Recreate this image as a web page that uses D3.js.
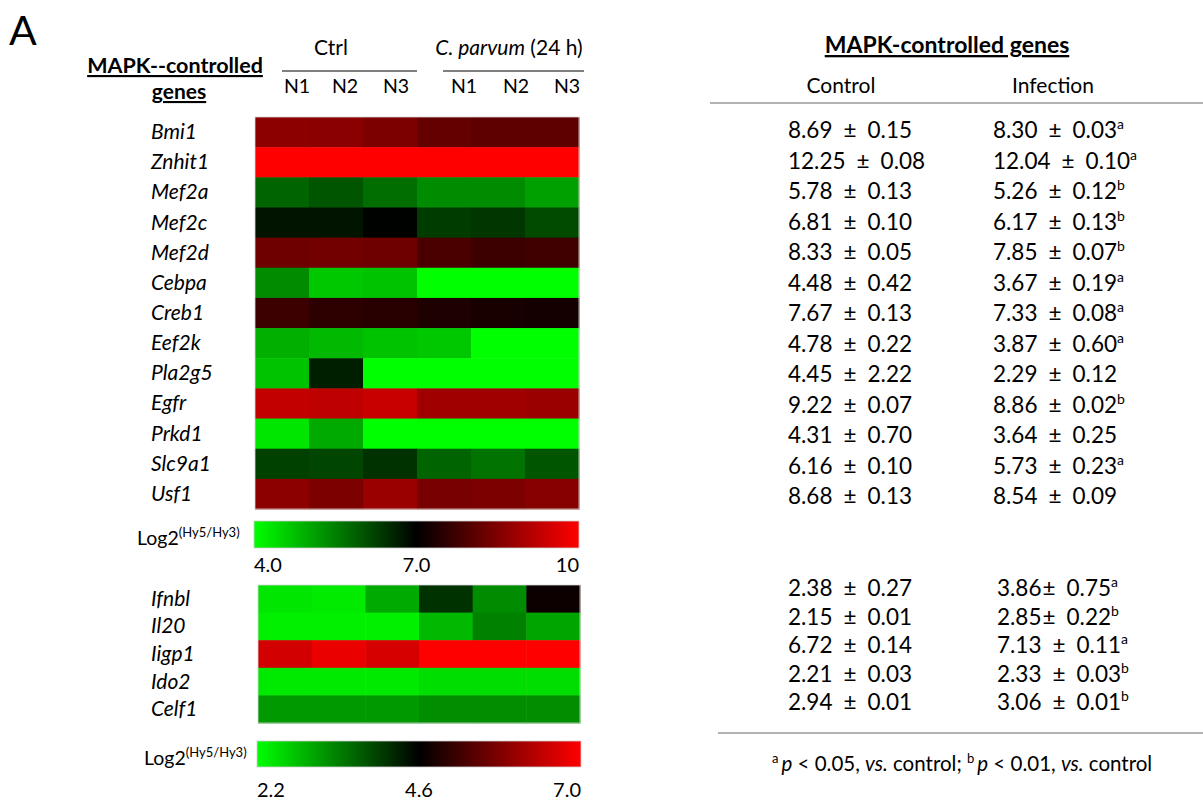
<!DOCTYPE html>
<html><head><meta charset="utf-8">
<script src="https://cdn.jsdelivr.net/npm/d3@7"></script>
<style>
html,body{margin:0;padding:0;background:#fff;}
svg{display:block;font-family:Lato,"Open Sans",sans-serif;}
</style></head>
<body>
<svg id="chart" width="1203" height="801"></svg>
<script>
// ---------- DATA ----------
const samples = ["N1","N2","N3","N1","N2","N3"];
const genes1 = ["Bmi1","Znhit1","Mef2a","Mef2c","Mef2d","Cebpa","Creb1","Eef2k","Pla2g5","Egfr","Prkd1","Slc9a1","Usf1"];
const values1 = [
  [8.65, 8.62, 8.47, 8.18, 8.12, 8.12],
  [12.3, 12.2, 12.25, 12.0, 12.1, 12.0],
  [5.82, 6.0, 5.71, 5.35, 5.35, 5.12],
  [6.76, 6.76, 6.98, 6.29, 6.35, 6.12],
  [8.29, 8.35, 8.29, 7.88, 7.71, 7.76],
  [5.35, 4.65, 4.71, 3.8, 3.6, 3.6],
  [7.71, 7.53, 7.47, 7.35, 7.29, 7.24],
  [4.94, 4.82, 4.71, 4.65, 3.6, 3.4],
  [4.71, 6.65, 1.9, 2.4, 2.2, 2.3],
  [9.29, 9.24, 9.35, 8.88, 8.88, 8.82],
  [4.29, 5.0, 3.6, 3.9, 3.5, 3.5],
  [6.24, 6.18, 6.41, 5.82, 5.65, 6.0],
  [8.65, 8.47, 8.82, 8.41, 8.47, 8.59]
];
const genes2 = ["Ifnbl","Il20","Iigp1","Ido2","Celf1"];
const values2 = [
  [2.44, 2.39, 3.0, 4.13, 3.28, 4.72],
  [2.34, 2.34, 2.34, 2.86, 3.38, 3.05],
  [6.58, 6.81, 6.62, 7.1, 7.2, 7.1],
  [2.4, 2.4, 2.4, 2.52, 2.52, 2.52],
  [3.16, 3.16, 3.16, 3.26, 3.26, 3.26]
];
const scaleTicks1 = ["4.0","7.0","10"];
const scaleDomain1 = [4.0, 7.0, 10];
const scaleTicks2 = ["2.2","4.6","7.0"];
const scaleDomain2 = [2.2, 4.6, 7.0];

const ctrlMean1 = ["8.69","12.25","5.78","6.81","8.33","4.48","7.67","4.78","4.45","9.22","4.31","6.16","8.68"];
const ctrlSD1   = ["0.15","0.08","0.13","0.10","0.05","0.42","0.13","0.22","2.22","0.07","0.70","0.10","0.13"];
const infMean1  = ["8.30","12.04","5.26","6.17","7.85","3.67","7.33","3.87","2.29","8.86","3.64","5.73","8.54"];
const infSD1    = ["0.03","0.10","0.12","0.13","0.07","0.19","0.08","0.60","0.12","0.02","0.25","0.23","0.09"];
const infSig1   = ["a","a","b","b","b","a","a","a","","b","","a",""];

const ctrlMean2 = ["2.38","2.15","6.72","2.21","2.94"];
const ctrlSD2   = ["0.27","0.01","0.14","0.03","0.01"];
const infMean2  = ["3.86","2.85","7.13","2.33","3.06"];
const infSD2    = ["0.75","0.22","0.11","0.03","0.01"];
const infSig2   = ["a","b","a","b","b"];
const infTight2 = [true, true, false, false, false];

// ---------- DRAW ----------
const svg = d3.select("#chart");
const colors = ["#00ff00","#000000","#ff0000"];

svg.append("text").attr("x",9).attr("y",45).attr("font-size",41)
  .attr("font-family","Lato, sans-serif").text("A");

// left header
const hdr = svg.append("g");
hdr.append("text").attr("x",175).attr("y",73).attr("text-anchor","middle")
  .attr("font-weight","bold").attr("font-size",21.5).attr("text-decoration","underline")
  .text("MAPK--controlled");
hdr.append("text").attr("x",179).attr("y",99).attr("text-anchor","middle")
  .attr("font-weight","bold").attr("font-size",21).attr("text-decoration","underline")
  .text("genes");
hdr.append("text").attr("x",331).attr("y",55).attr("text-anchor","middle").attr("font-size",21).text("Ctrl");
const cp = hdr.append("text").attr("x",509).attr("y",55).attr("text-anchor","middle").attr("font-size",21);
cp.append("tspan").attr("font-style","italic").text("C. parvum");
cp.append("tspan").text(" (24 h)");
hdr.append("line").attr("x1",282).attr("x2",417).attr("y1",71).attr("y2",71).attr("stroke","#000").attr("stroke-width",1.2);
hdr.append("line").attr("x1",443).attr("x2",584).attr("y1",71).attr("y2",71).attr("stroke","#000").attr("stroke-width",1.2);

const headX = [297,345,396,464,516,567];
hdr.selectAll("text.n").data(samples).join("text").attr("class","n")
  .attr("x",(d,i)=>headX[i]).attr("y",93).attr("text-anchor","middle").attr("font-size",19.5).text(d=>d);

function heatmap(genes, values, domain, x0, x1, y0, y1, labelX) {
  const color = d3.scaleLinear().domain(domain).range(colors).clamp(true);
  const x = d3.scaleBand().domain(d3.range(6)).range([x0,x1]);
  const y = d3.scaleBand().domain(genes).range([y0,y1]);
  const g = svg.append("g");
  genes.forEach((gene, r) => {
    g.selectAll(null).data(values[r]).join("rect")
      .attr("x",(d,i)=>x(i)).attr("y",y(gene))
      .attr("width",x.bandwidth()+0.5).attr("height",y.bandwidth()+0.5)
      .attr("fill",d=>color(d));
  });
  g.append("rect").attr("x",x0).attr("y",y0).attr("width",x1-x0).attr("height",y1-y0)
    .attr("fill","none").attr("stroke","#d8d8d8").attr("stroke-width",0.8);
  svg.append("g").selectAll("text").data(genes).join("text")
    .attr("x",labelX).attr("y",d=>y(d)+y.bandwidth()/2+7)
    .attr("font-style","italic").attr("font-size",21).text(d=>d);
  return color;
}

function colorbar(id, color, domain, ticks, x0, x1, y0, y1, labelX, labelY, tickY) {
  const xs = d3.scaleLinear().domain([domain[0], domain[domain.length-1]]).range([x0,x1]);
  const grad = svg.append("defs").append("linearGradient").attr("id",id)
    .attr("x1","0%").attr("x2","100%").attr("y1","0%").attr("y2","0%");
  d3.range(0,1.0001,0.05).forEach(t => {
    const v = domain[0] + t*(domain[domain.length-1]-domain[0]);
    grad.append("stop").attr("offset",(t*100)+"%").attr("stop-color",color(v));
  });
  svg.append("rect").attr("x",x0).attr("y",y0).attr("width",x1-x0).attr("height",y1-y0)
    .attr("fill",`url(#${id})`).attr("stroke","#d0d0d0").attr("stroke-width",0.8);
  const lab = svg.append("text").attr("x",labelX).attr("y",labelY).attr("font-size",19.5);
  lab.append("tspan").text("Log2");
  lab.append("tspan").attr("font-size",13).attr("dy",-8).text("(Hy5/Hy3)");
  const anchors = ["start","middle","end"];
  svg.append("g").selectAll("text").data(ticks).join("text")
    .attr("x",(d,i)=>xs(domain[i])).attr("y",tickY).attr("text-anchor",(d,i)=>anchors[i])
    .attr("font-size",20).text(d=>d);
}

const c1 = heatmap(genes1, values1, scaleDomain1, 255, 579, 117, 509, 151);
colorbar("g1", c1, scaleDomain1, scaleTicks1, 254, 579, 521, 548, 137, 545, 572);
const c2 = heatmap(genes2, values2, scaleDomain2, 258, 580, 585, 723, 151);
colorbar("g2", c2, scaleDomain2, scaleTicks2, 257, 581, 741, 767, 144, 765, 797);

// ---------- TABLE ----------
const tb = svg.append("g").attr("font-size",22.5);
tb.append("text").attr("x",947).attr("y",53).attr("text-anchor","middle")
  .attr("font-weight","bold").attr("font-size",23).attr("text-decoration","underline")
  .text("MAPK-controlled genes");
tb.append("text").attr("x",841).attr("y",93).attr("text-anchor","middle").attr("font-size",21).text("Control");
tb.append("text").attr("x",1053).attr("y",93).attr("text-anchor","middle").attr("font-size",21).text("Infection");
tb.append("line").attr("x1",710).attr("x2",1203).attr("y1",103).attr("y2",103).attr("stroke","#666").attr("stroke-width",1.2);
tb.append("line").attr("x1",718).attr("x2",1203).attr("y1",733).attr("y2",733).attr("stroke","#666").attr("stroke-width",1.2);

function cell(x, y, mean, sd, sig, tight) {
  const t = tb.append("text").attr("x",x).attr("y",y);
  t.append("tspan").text(mean);
  t.append("tspan").attr("dx", tight ? 1 : 11).text("±");
  t.append("tspan").attr("dx",11).text(sd);
  if (sig) t.append("tspan").attr("font-size",14).attr("dy",-9).text(sig);
}
const yT1 = d3.scalePoint().domain(genes1).range([130,496]);
genes1.forEach((g,i) => {
  cell(788, yT1(g)+8, ctrlMean1[i], ctrlSD1[i], "", false);
  cell(993, yT1(g)+8, infMean1[i], infSD1[i], infSig1[i], false);
});
const yT2 = d3.scalePoint().domain(genes2).range([588,702]);
genes2.forEach((g,i) => {
  cell(788, yT2(g)+8, ctrlMean2[i], ctrlSD2[i], "", false);
  cell(997, yT2(g)+8, infMean2[i], infSD2[i], infSig2[i], infTight2[i]);
});

const fn = tb.append("text").attr("x",772).attr("y",771).attr("font-size",20.5);
fn.append("tspan").attr("font-size",13).attr("dy",-8).text("a");
fn.append("tspan").attr("dy",8).attr("dx",3).attr("font-style","italic").text("p");
fn.append("tspan").text(" < 0.05, ");
fn.append("tspan").attr("font-style","italic").text("vs.");
fn.append("tspan").text(" control; ");
fn.append("tspan").attr("font-size",13).attr("dy",-8).text("b");
fn.append("tspan").attr("dy",8).attr("dx",3).attr("font-style","italic").text("p");
fn.append("tspan").text(" < 0.01, ");
fn.append("tspan").attr("font-style","italic").text("vs.");
fn.append("tspan").text(" control");
</script>
</body></html>
